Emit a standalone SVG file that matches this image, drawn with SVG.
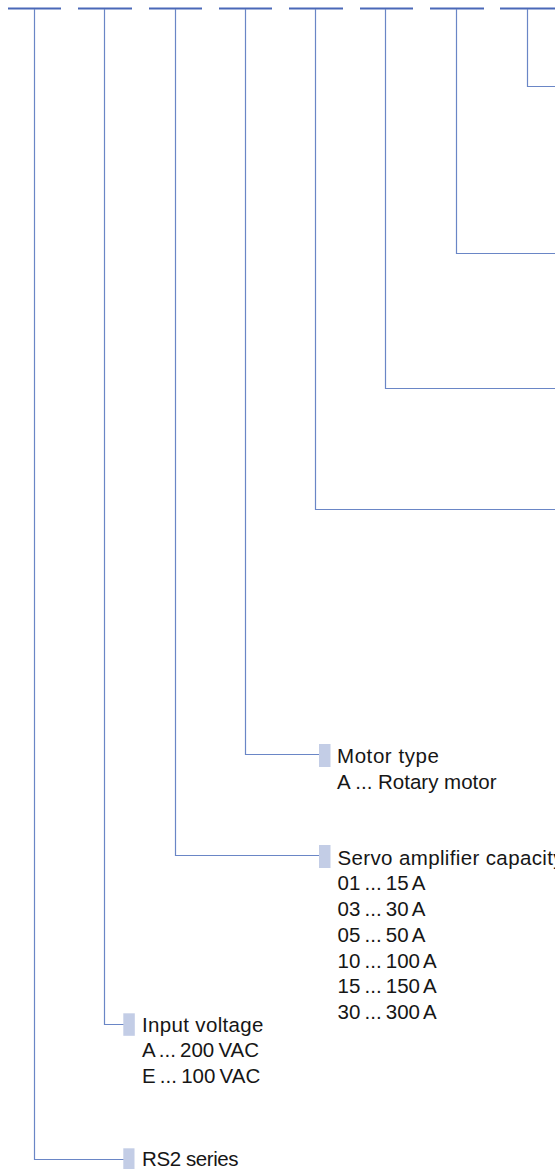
<svg xmlns="http://www.w3.org/2000/svg" width="555" height="1169" viewBox="0 0 555 1169">
<style>
.dash{stroke:#4a68b8;stroke-width:2;fill:none}
.ln{stroke:#6a86c6;stroke-width:1.2;fill:none}
.mk{fill:#c3cde6}
text{font-family:"Liberation Sans",Arial,sans-serif;font-size:20.5px;fill:#161616}
.val{word-spacing:-1.5px}
</style>
<rect width="555" height="1169" fill="#ffffff"/>
<g id="positions">
<line class="dash" x1="8" y1="8.5" x2="61" y2="8.5"/>
<line class="dash" x1="78" y1="8.5" x2="132" y2="8.5"/>
<line class="dash" x1="149" y1="8.5" x2="202" y2="8.5"/>
<line class="dash" x1="219" y1="8.5" x2="272" y2="8.5"/>
<line class="dash" x1="289" y1="8.5" x2="343" y2="8.5"/>
<line class="dash" x1="360" y1="8.5" x2="413" y2="8.5"/>
<line class="dash" x1="430" y1="8.5" x2="484" y2="8.5"/>
<line class="dash" x1="500" y1="8.5" x2="555" y2="8.5"/>
</g>
<g id="connectors">
<polyline class="ln" points="527.5,9 527.5,86.5 555,86.5"/>
<polyline class="ln" points="456.5,9 456.5,253.5 555,253.5"/>
<polyline class="ln" points="385.5,9 385.5,388.5 555,388.5"/>
<polyline class="ln" points="315.5,9 315.5,509.5 555,509.5"/>
<polyline class="ln" points="245.5,9 245.5,754.5 320,754.5"/>
<polyline class="ln" points="175.5,9 175.5,855.5 320,855.5"/>
<polyline class="ln" points="104.5,9 104.5,1024.5 124,1024.5"/>
<polyline class="ln" points="34.5,9 34.5,1159.5 124,1159.5"/>
</g>
<g id="motor-type">
<rect class="mk" x="319" y="744" width="11.5" height="23"/>
<text x="337" y="762.5" textLength="102" lengthAdjust="spacing">Motor type</text>
<text x="337" y="789">A ... Rotary motor</text>
</g>
<g id="servo-capacity">
<rect class="mk" x="319" y="845" width="11.5" height="23"/>
<text x="337.5" y="864.5" textLength="226" lengthAdjust="spacing">Servo amplifier capacity</text>
<text class="val" x="337.5" y="890">01 ... 15 A</text>
<text class="val" x="337.5" y="916">03 ... 30 A</text>
<text class="val" x="337.5" y="942">05 ... 50 A</text>
<text class="val" x="337.5" y="967.7">10 ... 100 A</text>
<text class="val" x="337.5" y="993.3">15 ... 150 A</text>
<text class="val" x="337.5" y="1019.3">30 ... 300 A</text>
</g>
<g id="input-voltage">
<rect class="mk" x="123.3" y="1013.3" width="11.5" height="22.5"/>
<text x="142" y="1032.3" textLength="121.5" lengthAdjust="spacing">Input voltage</text>
<text class="val" x="142" y="1057.3">A ... 200 VAC</text>
<text class="val" x="142" y="1083">E ... 100 VAC</text>
</g>
<g id="rs2-series">
<rect class="mk" x="123.3" y="1148.3" width="11.2" height="20.7"/>
<text x="142" y="1165.7" textLength="96.5" lengthAdjust="spacing">RS2 series</text>
</g>
</svg>
